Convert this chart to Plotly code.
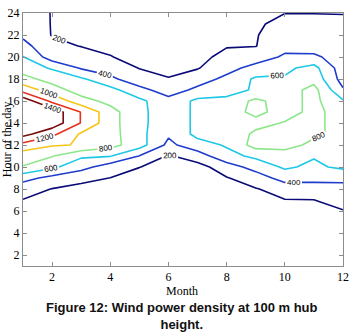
import plotly.graph_objects as go

# Wind power density (W/m^2) at 100 m hub height, hour (1..24) for each month
months = list(range(1, 13))
hours = list(range(1, 25))

jan = [40, 35, 40, 60, 100, 150, 195, 280, 470, 790, 880, 1130, 1470, 1650, 1650, 1530, 1120, 870, 700, 610, 470, 360, 300, 265]
feb = [30, 30, 35, 50, 80, 120, 160, 195, 340, 640, 810, 1020, 1250, 1530, 1530, 1150, 900, 720, 580, 300, 240, 192, 193, 195]
mar = [30, 30, 30, 40, 60, 90, 125, 160, 240, 475, 630, 988, 975, 1190, 1190, 880, 700, 630, 380, 280, 195, 170, 160, 160]
apr = [30, 30, 30, 40, 60, 90, 130, 165, 198, 290, 610, 870, 875, 880, 880, 740, 660, 450, 290, 205, 175, 150, 140, 135]
may = [20, 20, 25, 35, 50, 70, 95, 120, 150, 203, 395, 688, 660, 635, 635, 645, 470, 260, 195, 160, 130, 110, 100, 100]
jun = [20, 20, 20, 25, 35, 50, 70, 95, 120, 150, 180, 350, 430, 520, 520, 470, 295, 210, 150, 120, 100, 90, 80, 80]
jul = [20, 20, 20, 30, 45, 65, 85, 105, 120, 130, 300, 520, 657, 627, 627, 643, 450, 307, 188, 150, 140, 130, 130, 130]
aug = [20, 20, 20, 30, 50, 80, 120, 160, 190, 300, 540, 620, 690, 700, 730, 680, 480, 450, 330, 250, 190, 170, 160, 150]
sep = [20, 20, 25, 35, 60, 100, 150, 190, 290, 480, 640, 880, 830, 750, 840, 840, 640, 630, 470, 300, 195, 190, 180, 175]
octo = [20, 20, 25, 40, 80, 140, 195, 270, 487, 628, 720, 860, 870, 810, 740, 720, 700, 620, 560, 430, 340, 290, 240, 198]
nov = [20, 20, 25, 40, 85, 150, 198, 300, 467, 560, 615, 760, 830, 850, 840, 853, 867, 733, 664, 450, 283, 260, 250, 196]
dec = [20, 20, 25, 45, 100, 190, 280, 360, 430, 642, 680, 700, 751, 718, 735, 620, 420, 320, 290, 270, 250, 240, 230, 195]

x_ticks = [2, 4, 6, 8, 10, 12]
y_ticks = [2, 4, 6, 8, 10, 12, 14, 16, 18, 20, 22, 24]
level_start, level_end, level_step = 200, 1400, 200

columns = [jan, feb, mar, apr, may, jun, jul, aug, sep, octo, nov, dec]
z = [[col[i] for col in columns] for i in range(len(hours))]

line_colors = ["#0a0a78", "#1f3ccc", "#1ec8e6", "#8ee68a", "#f5c518", "#e8301c", "#7a0a0a"]
colorscale = [[i / (len(line_colors) - 1), c] for i, c in enumerate(line_colors)]

fig = go.Figure(go.Contour(
    x=months, y=hours, z=z,
    zmin=level_start, zmax=level_end, zauto=False,
    autocontour=False,
    contours=dict(start=level_start, end=level_end, size=level_step,
                  coloring="lines", showlabels=True,
                  labelfont=dict(size=8, color="black", family="Liberation Sans")),
    line=dict(width=1.6, smoothing=0),
    colorscale=colorscale, showscale=False, hoverinfo="skip",
))

axis_common = dict(showgrid=False, zeroline=False, showline=True, linecolor="#8c8c8c",
                   linewidth=1, mirror="ticks", ticks="inside", ticklen=4,
                   tickcolor="#8c8c8c", automargin=False,
                   tickfont=dict(family="Liberation Serif", size=12, color="black"))
fig.update_xaxes(range=[1, 12], tickvals=x_ticks, **axis_common)
fig.update_yaxes(range=[1, 24], tickvals=y_ticks, **axis_common)

fig.update_layout(
    width=362, height=334, autosize=False,
    margin=dict(l=23, r=19, t=13, b=68),
    paper_bgcolor="white", plot_bgcolor="white",
    showlegend=False,
    annotations=[
        dict(text="Month", xref="paper", yref="paper", x=0.497, y=-0.097,
             xanchor="center", yanchor="middle", showarrow=False,
             font=dict(family="Liberation Serif", size=12, color="black")),
        dict(text="Hour of the day", xref="paper", yref="paper", x=-0.051, y=0.5,
             xanchor="center", yanchor="middle", textangle=-90, showarrow=False,
             font=dict(family="Liberation Serif", size=12, color="black")),
        dict(text="<b>Figure 12: Wind power density at 100 m hub<br>height.</b>",
             xref="paper", yref="paper", x=0.497, y=-0.125,
             xanchor="center", yanchor="top", showarrow=False, align="center",
             font=dict(family="Liberation Sans", size=13, color="#111111")),
    ],
)

fig.write_html("out.html", config={"displayModeBar": False},
               post_script="document.body.style.margin='0px';document.body.style.overflow='hidden';")
